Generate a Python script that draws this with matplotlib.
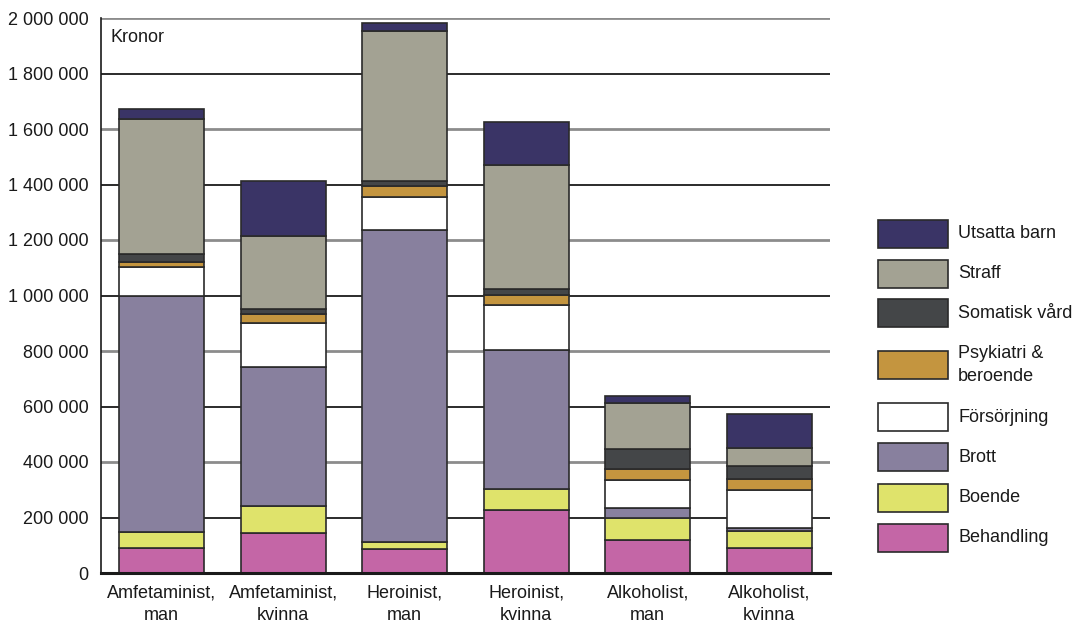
import matplotlib
matplotlib.use("Agg")
import matplotlib.pyplot as plt
from matplotlib.patches import Rectangle
import numpy as np

plt.rcParams['font.family'] = ['Liberation Sans', 'DejaVu Sans']

categories = ["Amfetaminist,\nman", "Amfetaminist,\nkvinna", "Heroinist,\nman",
              "Heroinist,\nkvinna", "Alkoholist,\nman", "Alkoholist,\nkvinna"]

# stacked from bottom to top
behandling  = [89000, 145000, 85000, 227000, 119000, 91000]
boende      = [58000, 97000, 25000, 76000, 80000, 59000]
brott       = [850000, 501000, 1125000, 499000, 35000, 11000]
forsorjning = [106000, 158000, 121000, 163000, 102000, 138000]
psykiatri   = [16000, 31000, 40000, 38000, 39000, 40000]
somatisk    = [32000, 18000, 18000, 22000, 72000, 48000]
straff      = [485000, 265000, 539000, 445000, 164000, 65000]
utsatta     = [37000, 199000, 29000, 157000, 27000, 121000]

series_names = ["Behandling", "Boende", "Brott", "Försörjning",
                "Psykiatri &\nberoende", "Somatisk vård", "Straff", "Utsatta barn"]
series_vals = [behandling, boende, brott, forsorjning, psykiatri, somatisk, straff, utsatta]
colors = ["#c466a6", "#dfe36b", "#88809e", "#ffffff", "#c4953f", "#444648", "#a3a293", "#3a3466"]

yticks = [0, 200000, 400000, 600000, 800000, 1000000, 1200000, 1400000, 1600000, 1800000, 2000000]
ytick_labels = ["0", "200 000", "400 000", "600 000", "800 000", "1 000 000", "1 200 000",
                "1 400 000", "1 600 000", "1 800 000", "2 000 000"]

FS = 13
W, H = 1075, 632
fig = plt.figure(figsize=(W / 100, H / 100), dpi=100)
ax = fig.add_axes([101 / W, 1 - 573 / H, (830 - 101) / W, (573 - 18) / H])

x = np.arange(len(categories))
bottom = np.zeros(len(categories))
for vals, col in zip(series_vals, colors):
    ax.bar(x, vals, 0.7, bottom=bottom, color=col, edgecolor="#2a2a2a", linewidth=1.2, zorder=3)
    bottom += np.array(vals)

for i, t in enumerate(yticks[1:], start=1):
    if i % 2 == 0:
        ax.axhline(t, color="#8c8c8c", linewidth=2.0, zorder=1)
    else:
        ax.axhline(t, color="#1a1a1a", linewidth=1.3, zorder=1)

ax.set_xlim(-0.5, 5.5)
ax.set_ylim(0, 2000000)
ax.set_yticks(yticks)
ax.set_yticklabels(ytick_labels)
ax.set_xticks(x)
ax.set_xticklabels(categories, linespacing=1.45)
ax.tick_params(axis="both", length=0, labelsize=FS, colors="#1a1a1a")
ax.tick_params(axis="y", pad=9)
ax.tick_params(axis="x", pad=8)
for s in ["top", "right"]:
    ax.spines[s].set_visible(False)
ax.spines["left"].set_color("#1a1a1a")
ax.spines["left"].set_linewidth(1.2)
ax.spines["bottom"].set_color("#1a1a1a")
ax.spines["bottom"].set_linewidth(2.2)
ax.spines["bottom"].set_zorder(5)

ax.text((111 - 101) / (830 - 101), 1 - (37 - 18) / (573 - 18), "Kronor", transform=ax.transAxes,
        fontsize=FS, va="center", ha="left", color="#1a1a1a")

# legend (top to bottom)
leg_names = series_names[::-1]
leg_colors = colors[::-1]
leg_y = [234, 274, 313, 365, 417, 457, 498, 538]
for name, col, py in zip(leg_names, leg_colors, leg_y):
    r = Rectangle((878 / W, 1 - (py + 14) / H), 70 / W, 28 / H, transform=fig.transFigure,
                  facecolor=col, edgecolor="#2a2a2a", linewidth=1.2)
    fig.patches.append(r)
    fig.text(958 / W, 1 - py / H, name, fontsize=FS, va="center", ha="left",
             color="#1a1a1a", linespacing=1.4)

fig.savefig("out.png", dpi=100)
